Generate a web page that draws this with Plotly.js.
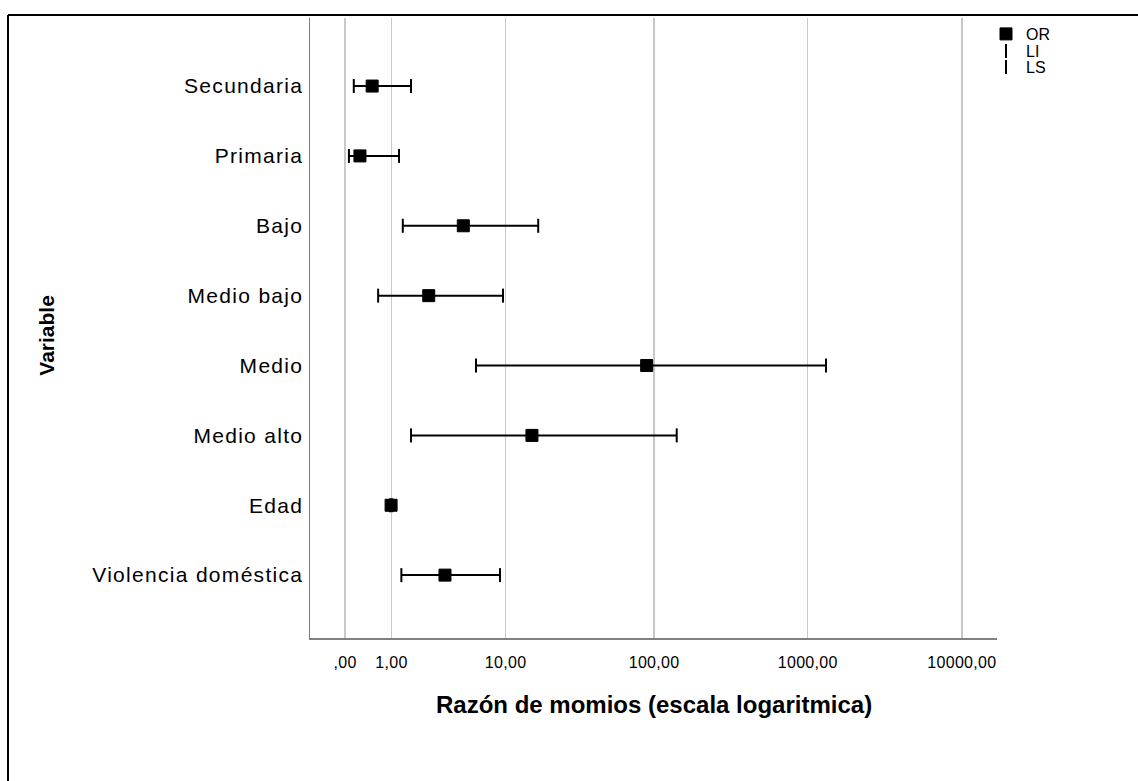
<!DOCTYPE html>
<html>
<head>
<meta charset="utf-8">
<script src="https://cdn.plot.ly/plotly-3.0.1.min.js"></script>
<style>
  html, body { margin: 0; padding: 0; background: #fff; }
  #chart { width: 1138px; height: 781px; }
  .ytick text { letter-spacing: 1.3px; }
  .xtick text { letter-spacing: 0.3px; }
</style>
</head>
<body>
<div id="chart"></div>
<script>
// Odds ratios with 95% CI limits (LI = lower, LS = upper)
var categories = ['Secundaria', 'Primaria', 'Bajo', 'Medio bajo', 'Medio', 'Medio alto', 'Edad', 'Violencia doméstica'];
var orValues = [0.50, 0.25, 4.85, 2.49, 89.4, 15.3, 0.99, 3.45];
var liValues = [0.14, 0.06, 1.37, 0.64, 6.07, 1.68, 0.96, 1.32];
var lsValues = [1.68, 1.24, 16.9, 9.58, 1314, 140.6, 1.02, 9.12];
var tickValues = [0, 1, 10, 100, 1000, 10000];
var tickLabels = [',00', '1,00', '10,00', '100,00', '1000,00', '10000,00'];
var referenceValue = 1;

// SPSS "safe" logarithmic scale: position = log10(1 + value)
function safe(v) { return 1 + v; }

var segX = [], segY = [];
for (var i = 0; i < categories.length; i++) {
  segX.push(safe(liValues[i]), safe(lsValues[i]), null);
  segY.push(categories[i], categories[i], null);
}

var traces = [
  {
    type: 'scatter', mode: 'lines', x: segX, y: segY,
    line: {color: '#000', width: 2}, showlegend: false, hoverinfo: 'skip'
  },
  {
    type: 'scatter', mode: 'markers', name: 'OR', legend: 'legend',
    x: orValues.map(safe), y: categories,
    marker: {symbol: 'square', size: 12, color: '#000', line: {color: '#000', width: 1}}
  },
  {
    type: 'scatter', mode: 'markers', name: 'LI', legend: 'legend2',
    x: liValues.map(safe), y: categories,
    marker: {symbol: 'line-ns', size: 10, color: '#000', line: {color: '#000', width: 2}}
  },
  {
    type: 'scatter', mode: 'markers', name: 'LS', legend: 'legend3',
    x: lsValues.map(safe), y: categories,
    marker: {symbol: 'line-ns', size: 10, color: '#000', line: {color: '#000', width: 2}}
  }
];

function legendAt(yPx) {
  return {
    x: (986 - 310) / 687, y: (638 - yPx) / 620, xanchor: 'left', yanchor: 'middle',
    font: {size: 16, color: '#000'}, bgcolor: 'rgba(0,0,0,0)',
    itemwidth: 30, borderwidth: 0
  };
}

var layout = {
  width: 1138, height: 781,
  margin: {l: 310, r: 141, t: 18, b: 143},
  paper_bgcolor: '#fff', plot_bgcolor: '#fff',
  font: {family: 'Liberation Sans, Arial, sans-serif', color: '#000'},
  showlegend: true,
  legend: legendAt(34),
  legend2: legendAt(51),
  legend3: legendAt(67),
  xaxis: {
    type: 'log',
    range: [-0.227, 4.228],
    tickvals: tickValues.map(safe),
    ticktext: tickLabels,
    tickfont: {size: 16, color: '#000'},
    ticks: '', ticklabelstandoff: 9,
    showgrid: true, gridcolor: '#c8c8c8', gridwidth: 1.5,
    showline: true, linecolor: '#808080', linewidth: 1.5,
    zeroline: false, fixedrange: true
  },
  yaxis: {
    type: 'category',
    categoryorder: 'array', categoryarray: categories,
    range: [7.9, -0.974],
    tickfont: {size: 21, color: '#000'},
    ticks: '', ticklabelstandoff: 1,
    showgrid: false,
    showline: true, linecolor: '#808080', linewidth: 1.5,
    zeroline: false, fixedrange: true
  },
  shapes: [
    {
      type: 'line', xref: 'x', yref: 'paper',
      x0: Math.log10(safe(referenceValue)), x1: Math.log10(safe(referenceValue)),
      y0: 0, y1: 1,
      line: {color: '#d4476b', width: 2}, layer: 'between'
    },
    {
      type: 'line', xref: 'paper', yref: 'paper',
      x0: -0.4396, x1: 1.21, y0: 1.0048, y1: 1.0048,
      line: {color: '#000', width: 2}
    },
    {
      type: 'line', xref: 'paper', yref: 'paper',
      x0: -0.4396, x1: -0.4396, y0: 1.0048, y1: -0.24,
      line: {color: '#000', width: 2}
    }
  ],
  annotations: [
    {
      text: '<b>Razón de momios (escala logaritmica)</b>',
      xref: 'paper', yref: 'paper', x: 0.5, y: -0.108,
      xanchor: 'center', yanchor: 'middle', showarrow: false,
      font: {size: 24, color: '#000'}
    },
    {
      text: '<b>Variable</b>',
      xref: 'paper', yref: 'paper', x: -0.383, y: 0.489,
      xanchor: 'center', yanchor: 'middle', showarrow: false,
      textangle: -90,
      font: {size: 21, color: '#000'}
    }
  ]
};

Plotly.newPlot('chart', traces, layout, {staticPlot: true, displayModeBar: false});
</script>
</body>
</html>
